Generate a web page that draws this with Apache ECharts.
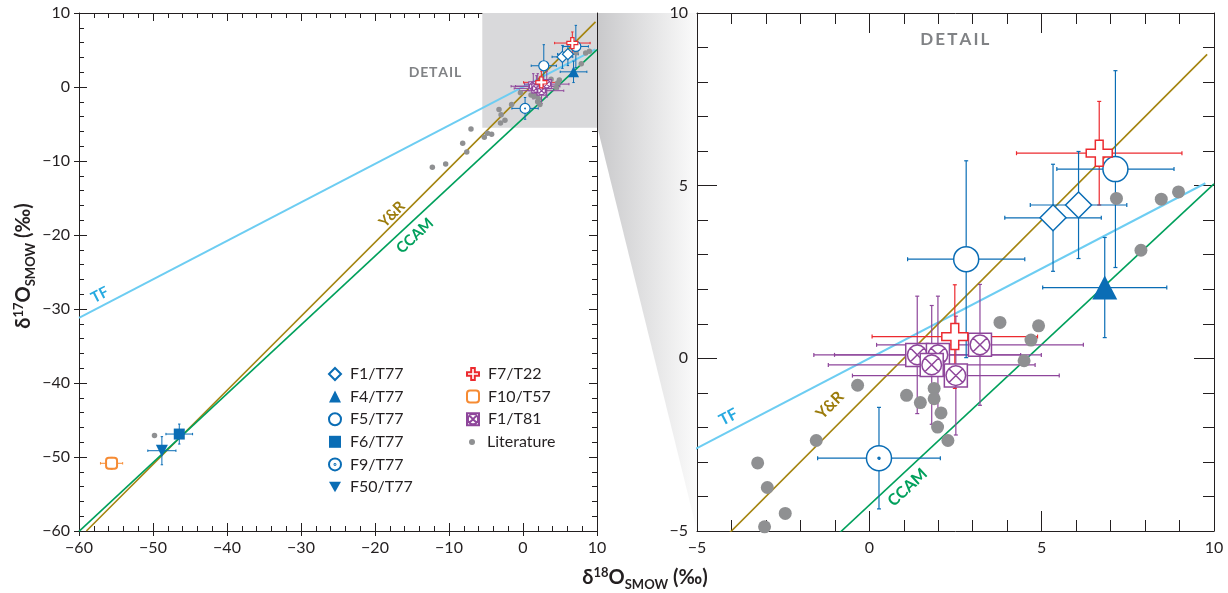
<!DOCTYPE html>
<html>
<head>
<meta charset="utf-8">
<script src="https://cdn.jsdelivr.net/npm/echarts@6/dist/echarts.min.js"></script>
<style>
    html, body { margin: 0; padding: 0; background: #fff; }
    #chart { width: 1228px; height: 593px; }
</style>
</head>
<body>
<div id="chart"></div>
<script>
// each point: [d18O, d17O, err18O, err17O]
const f1t77 = [[5.33, 4.07, 1.4, 1.55], [6.07, 4.44, 1.4, 1.55]];
const f4t77 = [[6.83, 2.05, 1.8, 1.45]];
const f5t77 = [[7.14, 5.48, 1.7, 2.85], [2.81, 2.87, 1.7, 2.85]];
const f6t77 = [[-46.45, -46.9, 1.8, 1.35]];
const f9t77 = [[0.28, -2.89, 1.78, 1.47]];
const f50t77 = [[-48.8, -49.15, 1.9, 1.9]];
const f7t22 = [[6.67, 5.94, 2.4, 1.5], [2.48, 0.63, 2.4, 1.5]];
const f10t57 = [[-55.6, -50.85, 1.5, 0.8]];
const f1t81 = [[1.39, 0.10, 3.0, 1.7], [1.99, 0.10, 3.0, 1.7], [1.81, -0.19, 3.0, 1.72],
               [2.51, -0.50, 3.0, 1.72], [3.21, 0.39, 3.0, 1.75]];
const literature = [
    [3.79, 1.04], [4.91, 0.94], [4.69, 0.53], [4.49, -0.07], [-0.34, -0.78], [1.08, -1.07],
    [1.48, -1.28], [1.88, -0.87], [1.88, -1.17], [2.08, -1.58], [1.98, -1.99], [2.28, -2.38],
    [-1.54, -2.38], [-3.24, -3.03], [-2.96, -3.74], [-2.44, -4.49], [-3.04, -4.88],
    [7.17, 4.63], [8.47, 4.61], [8.97, 4.82], [7.88, 3.13],
    [-7.03, -5.68], [-8.15, -7.6], [-7.6, -8.8], [-10.45, -10.4], [-12.25, -10.85],
    [-5.23, -6.8], [-4.8, -6.26], [-4.24, -6.4], [-49.8, -47.1]
];

// reference lines, end points
const tfLine = [[-60, -31.2], [9.75, 5.07]];
const yrLine = [[-59, -60], [9.8, 8.8]];
const ccamLine = [[-60, -60.05], [10, 5.05]];

const leftTicks = [-60, -50, -40, -30, -20, -10, 0, 10];
const rightTicks = [-5, 0, 5, 10];

const BLUE = '#0a6db5', RED = '#ec2a2f', ORANGE = '#f68b33', PURPLE = '#8e469b', GRAY = '#8f9092';
const INK = '#231f20';
const FONT = 'Lato';

const LEFT = {x: 0, y: 0, big: false};
const RIGHT = {x: 3, y: 3, big: true};

const crossPath = 'path://M7,0H13V7H20V13H13V20H7V13H0V7H7Z';
const boxPath = 'path://M0,0H20V20H0Z M10,1.5A8.5,8.5 0 1,1 9.99,1.5Z M4,4L16,16 M16,4L4,16';
const dotCirclePath = 'path://M10,0A10,10 0 1,1 9.99,0Z M10,9.2A0.8,0.8 0 1,1 9.99,9.2Z';
const downTriPath = 'path://M0,0H20L10,17.3Z';

function fmt(v) {
    return String(v).replace('-', '\u2212');
}

function pointSeries(name, data, color, symbol, size, open, panel, extra) {
    return Object.assign({
        name: name,
        type: 'scatter',
        xAxisIndex: panel.x,
        yAxisIndex: panel.y,
        data: data.map(d => [d[0], d[1]]),
        symbol: symbol,
        symbolSize: size,
        z: 5,
        silent: true,
        itemStyle: open
            ? {color: '#fff', borderColor: color, borderWidth: panel.big ? 1.5 : 1.2, opacity: 1}
            : {color: color, opacity: 1}
    }, extra || {});
}

function errSeries(data, color, panel) {
    const lw = panel.big ? 1.2 : 1;
    const cap = panel.big ? 2 : 1.2;
    return {
        type: 'custom',
        xAxisIndex: panel.x,
        yAxisIndex: panel.y,
        data: data,
        clip: true,
        z: 3,
        silent: true,
        itemStyle: {color: color},
        renderItem: function (params, api) {
            const x = api.value(0), y = api.value(1), ex = api.value(2), ey = api.value(3);
            const l = api.coord([x - ex, y]), r = api.coord([x + ex, y]);
            const t = api.coord([x, y + ey]), b = api.coord([x, y - ey]);
            const style = {stroke: color, lineWidth: lw, fill: null};
            const seg = (x1, y1, x2, y2) => ({type: 'line', shape: {x1, y1, x2, y2}, style: style});
            return {
                type: 'group',
                children: [
                    seg(l[0], l[1], r[0], r[1]),
                    seg(t[0], t[1], b[0], b[1]),
                    seg(l[0], l[1] - cap, l[0], l[1] + cap),
                    seg(r[0], r[1] - cap, r[0], r[1] + cap),
                    seg(t[0] - cap, t[1], t[0] + cap, t[1]),
                    seg(b[0] - cap, b[1], b[0] + cap, b[1])
                ]
            };
        }
    };
}

function lineSeries(data, color, width, panel) {
    return {
        type: 'line',
        xAxisIndex: panel.x,
        yAxisIndex: panel.y,
        data: data,
        symbol: 'none',
        silent: true,
        z: 2,
        clip: true,
        lineStyle: {color: color, width: width}
    };
}

function panelSeries(panel) {
    const big = panel.big;
    const s = [];
    s.push(lineSeries(tfLine, '#6dcdf2', 2, panel));
    s.push(lineSeries(yrLine, '#a4840f', 1.6, panel));
    s.push(lineSeries(ccamLine, '#00a05c', 1.6, panel));

    s.push(errSeries(f1t81, PURPLE, panel));
    s.push(errSeries(f7t22, RED, panel));
    s.push(errSeries(f1t77, BLUE, panel));
    s.push(errSeries(f4t77, BLUE, panel));
    s.push(errSeries(f5t77, BLUE, panel));
    s.push(errSeries(f9t77, BLUE, panel));
    s.push(errSeries(f6t77, BLUE, panel));
    s.push(errSeries(f50t77, BLUE, panel));
    s.push(errSeries(f10t57, ORANGE, panel));

    s.push(pointSeries('Literature', literature, GRAY, 'circle', big ? 13 : 5.5, false, panel, {z: 4}));
    s.push(pointSeries('F1/T77', f1t77, BLUE, 'diamond', big ? 26 : 11, true, panel));
    s.push(pointSeries('F4/T77', f4t77, BLUE, 'triangle', big ? [25, 24] : 11, false, panel));
    s.push(pointSeries('F5/T77', f5t77, BLUE, 'circle', big ? 25 : 10, true, panel));
    s.push(pointSeries('F6/T77', f6t77, BLUE, 'rect', big ? 22 : 11, false, panel));
    s.push(pointSeries('F9/T77', f9t77, BLUE, dotCirclePath, big ? 25 : 10, true, panel));
    s.push(pointSeries('F50/T77', f50t77, BLUE, downTriPath, big ? 24 : 12, false, panel));
    s.push(pointSeries('F1/T81', f1t81, PURPLE, boxPath, big ? 23 : 9, true, panel));
    s.push(pointSeries('F7/T22', f7t22, RED, crossPath, big ? 26 : 11, true, panel));
    s.push(pointSeries('F10/T57', f10t57, ORANGE, 'roundRect', big ? 22 : 11, true, panel,
        {itemStyle: {color: '#fff', borderColor: ORANGE, borderWidth: 2, opacity: 1}}));
    return s;
}

// box that marks the detail window in the left panel
const detailBox = {
    type: 'line',
    xAxisIndex: 0,
    yAxisIndex: 0,
    data: [],
    z: 0,
    silent: true,
    markArea: {
        silent: true,
        itemStyle: {color: '#d9d9db'},
        data: [[{coord: [-5.5, -5.5]}, {coord: [10, 10]}]]
    }
};

function makeAxis(gridIndex, pos, min, max, interval, opts) {
    return {
        type: 'value',
        gridIndex: gridIndex,
        position: pos,
        min: min,
        max: max,
        interval: interval,
        splitLine: {show: false},
        axisLine: {show: opts.line, onZero: false, lineStyle: {color: INK, width: 1}},
        axisTick: {show: opts.tick > 0, inside: opts.inside, length: opts.tick, lineStyle: {color: INK, width: 1}},
        minorTick: {show: opts.minor > 0, splitNumber: 5, length: opts.minor, lineStyle: {color: INK, width: 1}},
        axisLabel: {
            show: !!opts.label,
            color: INK,
            fontFamily: FONT,
            fontSize: 16,
            margin: opts.margin || 8,
            formatter: fmt
        }
    };
}

const chart = echarts.init(document.getElementById('chart'));

const legendText = {color: INK, fontFamily: FONT, fontSize: 16, lineHeight: 16};

const option = {
    animation: false,
    backgroundColor: '#fff',
    grid: [
        {left: 79, top: 13, width: 518, height: 518},
        {left: 697, top: 13, width: 517, height: 518}
    ],
    xAxis: [
        makeAxis(0, 'bottom', leftTicks[0], leftTicks[leftTicks.length - 1], 10, {line: true, label: true, tick: 5, inside: false, minor: 0, margin: 9}),
        makeAxis(0, 'bottom', -60, 10, 10, {line: false, tick: 8, inside: true, minor: 5}),
        makeAxis(0, 'top', -60, 10, 10, {line: true, tick: 8, inside: true, minor: 5}),
        makeAxis(1, 'bottom', rightTicks[0], rightTicks[rightTicks.length - 1], 5, {line: true, label: true, tick: 20, inside: true, minor: 11, margin: 9}),
        makeAxis(1, 'top', -5, 10, 5, {line: true, tick: 20, inside: true, minor: 11})
    ],
    yAxis: [
        makeAxis(0, 'left', leftTicks[0], leftTicks[leftTicks.length - 1], 10, {line: true, label: true, tick: 5, inside: false, minor: 0, margin: 9}),
        makeAxis(0, 'left', -60, 10, 10, {line: false, tick: 8, inside: true, minor: 5}),
        makeAxis(0, 'right', -60, 10, 10, {line: true, tick: 8, inside: true, minor: 5}),
        makeAxis(1, 'left', rightTicks[0], rightTicks[rightTicks.length - 1], 5, {line: true, label: true, tick: 20, inside: true, minor: 11, margin: 9}),
        makeAxis(1, 'right', -5, 10, 5, {line: true, tick: 20, inside: true, minor: 11})
    ],
    legend: [
        {
            orient: 'vertical', left: 328, top: 366, padding: 0, itemWidth: 12, itemHeight: 12, itemGap: 6.6,
            selectedMode: false, textStyle: Object.assign({padding: [0, 0, 0, 4]}, legendText),
            data: ['F1/T77', 'F4/T77', 'F5/T77', 'F6/T77', 'F9/T77', 'F50/T77']
        },
        {
            orient: 'vertical', left: 466, top: 366, padding: 0, itemWidth: 12, itemHeight: 12, itemGap: 6.6,
            selectedMode: false, textStyle: Object.assign({padding: [0, 0, 0, 4]}, legendText),
            data: ['F7/T22', 'F10/T57', 'F1/T81']
        },
        {
            orient: 'vertical', left: 469, top: 434, padding: 0, itemWidth: 6, itemHeight: 6,
            selectedMode: false, textStyle: Object.assign({padding: [0, 0, 0, 7]}, legendText),
            data: ['Literature']
        }
    ],
    series: [detailBox].concat(panelSeries(RIGHT), panelSeries(LEFT))
};

chart.setOption(option);

// text and shading placed from data coordinates
const L = {xAxisIndex: 0, yAxisIndex: 0};
const R = {xAxisIndex: 3, yAxisIndex: 3};
const px = (f, p) => chart.convertToPixel(f, p);

function angleOf(f, line) {
    const a = px(f, line[0]), b = px(f, line[1]);
    return Math.atan2(a[1] - b[1], b[0] - a[0]);
}

function lineLabel(f, pos, text, color, line, size) {
    const p = px(f, pos);
    return {
        type: 'text',
        x: p[0], y: p[1],
        rotation: angleOf(f, line),
        style: {
            text: text, fill: color, font: 'bold ' + size + 'px ' + FONT,
            align: 'center', verticalAlign: 'middle'
        },
        z: 10,
        silent: true
    };
}

const p1 = px(L, [10, 10]), p2 = px(L, [10, -5.5]);
const p3 = px(R, [-5, -5]), p4 = px(R, [-5, 10]);
const dR = px(R, [2.48, 9.23]), dL = px(L, [-11.9, 2.0]);

const titleRich = {
    m: {fontFamily: FONT, fontWeight: 'bold', fontSize: 20, lineHeight: 26, fill: INK, verticalAlign: 'middle'},
    sup: {fontFamily: FONT, fontWeight: 'bold', fontSize: 13, lineHeight: 26, fill: INK, verticalAlign: 'top', padding: [1, 0, 0, 0]},
    sub: {fontFamily: FONT, fontWeight: 'bold', fontSize: 13, lineHeight: 26, fill: INK, verticalAlign: 'bottom'}
};
const titleText = '{m|\u03b4}{sup|17}{m|O}{sub|SMOW}{m| (\u2030)}';

chart.setOption({
    graphic: [
        {
            type: 'polygon',
            shape: {points: [[p1[0] + 0.5, p1[1]], [p4[0], p4[1]], [p3[0], p3[1]], [p2[0] + 0.5, p2[1]]]},
            style: {
                fill: new echarts.graphic.LinearGradient(0, 0, 1, 0, [
                    {offset: 0, color: '#c9c9cb'},
                    {offset: 1, color: '#fbfbfb'}
                ])
            },
            z: -10,
            silent: true
        },
        {
            type: 'text', x: dR[0], y: dR[1], z: 10, silent: true,
            style: {text: 'D\u2009E\u2009T\u2009A\u2009I\u2009L', fill: '#808285', font: 'bold 17px ' + FONT, align: 'center', verticalAlign: 'middle'}
        },
        {
            type: 'text', x: dL[0], y: dL[1], z: 10, silent: true,
            style: {text: 'D\u200aE\u200aT\u200aA\u200aI\u200aL', fill: '#808285', font: 'bold 14px ' + FONT, align: 'center', verticalAlign: 'middle'}
        },
        lineLabel(L, [-57.2, -28.1], 'TF', '#27aae1', tfLine, 15),
        lineLabel(L, [-17.7, -17.2], 'Y&R', '#9c7c0c', yrLine, 15),
        lineLabel(L, [-14.6, -20.1], 'CCAM', '#00a05c', ccamLine, 15),
        lineLabel(R, [-4.09, -1.70], 'TF', '#27aae1', tfLine, 16),
        lineLabel(R, [-1.14, -1.36], 'Y&R', '#9c7c0c', yrLine, 16),
        lineLabel(R, [1.11, -3.74], 'CCAM', '#00a05c', ccamLine, 16),
        {
            type: 'text', x: 645, y: 578, z: 10, silent: true,
            style: {text: titleText.replace('17', '18'), rich: titleRich, align: 'center', verticalAlign: 'middle'}
        },
        {
            type: 'text', x: 24, y: 266, rotation: Math.PI / 2, z: 10, silent: true,
            style: {text: titleText, rich: titleRich, align: 'center', verticalAlign: 'middle'}
        }
    ]
});
</script>
</body>
</html>
